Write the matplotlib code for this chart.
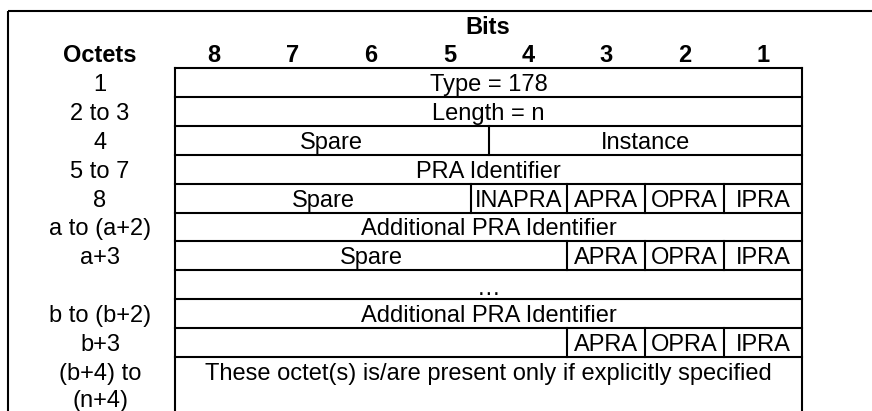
import matplotlib.pyplot as plt

plt.rcParams['font.family'] = ['Liberation Sans', 'DejaVu Sans']

# Table content
BIT_LABELS = ["8", "7", "6", "5", "4", "3", "2", "1"]
OCTET_LABELS = ["1", "2 to 3", "4", "5 to 7", "8", "a to (a+2)", "a+3",
                "", "b to (b+2)", "b+3", "(b+4) to\n(n+4)"]
# cells per row: (start column, end column, text); columns counted 0..8 from bit 8
ROW_CELLS = [
    [(0, 8, "Type = 178")],
    [(0, 8, "Length = n")],
    [(0, 4, "Spare"), (4, 8, "Instance")],
    [(0, 8, "PRA Identifier")],
    [(0, 3.78, "Spare"), (3.78, 5, "INAPRA"), (5, 6, "APRA"), (6, 7, "OPRA"), (7, 8, "IPRA")],
    [(0, 8, "Additional PRA Identifier")],
    [(0, 5, "Spare"), (5, 6, "APRA"), (6, 7, "OPRA"), (7, 8, "IPRA")],
    [(0, 8, "…")],
    [(0, 8, "Additional PRA Identifier")],
    [(0, 5, ""), (5, 6, "APRA"), (6, 7, "OPRA"), (7, 8, "IPRA")],
    [(0, 8, "These octet(s) is/are present only if explicitly specified")],
]

W, H = 872, 411
fig = plt.figure(figsize=(W / 100, H / 100), dpi=100)
ax = fig.add_axes([0, 0, 1, 1])
ax.set_xlim(0, W)
ax.set_ylim(H, 0)
ax.axis('off')

LW = 1.5
FS = 17
x0, x1 = 175, 802
col_w = (x1 - x0) / 8
y_top = 68
row_h = 28.9
oct_x = 100

def cx(c):
    return x0 + c * col_w

# outer frame (cut off at right and bottom)
ax.plot([8, W], [11, 11], color='black', lw=LW, solid_capstyle='butt')
ax.plot([8, 8], [11, H], color='black', lw=LW, solid_capstyle='butt')

# headers
ax.text(488, 28, "Bits", ha='center', va='center', fontsize=FS, fontweight='bold')
ax.text(oct_x, 55, "Octets", ha='center', va='center', fontsize=FS, fontweight='bold')
for i, b in enumerate(BIT_LABELS):
    ax.text(cx(i + 0.5), 55, b, ha='center', va='center', fontsize=FS, fontweight='bold')

# table borders
ax.plot([x0, x0], [y_top, H], color='black', lw=LW)
ax.plot([x1, x1], [y_top, H], color='black', lw=LW)

n = len(OCTET_LABELS)
for r in range(n):
    yt = y_top + r * row_h
    ax.plot([x0, x1], [yt, yt], color='black', lw=LW)
    last = r == n - 1
    yc = yt + row_h / 2 + 2.5
    if last:
        lines = OCTET_LABELS[r].split("\n")
        for k, s in enumerate(lines):
            ax.text(oct_x, yc + k * 27, s, ha='center', va='center', fontsize=FS)
    else:
        ax.text(oct_x, yc, OCTET_LABELS[r], ha='center', va='center', fontsize=FS)
    for (c0, c1, txt) in ROW_CELLS[r]:
        if c0 > 0:
            ax.plot([cx(c0), cx(c0)], [yt, yt + row_h], color='black', lw=LW)
        ty = yc + 2 if txt == "…" else yc
        ax.text((cx(c0) + cx(c1)) / 2, ty, txt, ha='center', va='center', fontsize=FS)

fig.savefig("out.png", dpi=100)
